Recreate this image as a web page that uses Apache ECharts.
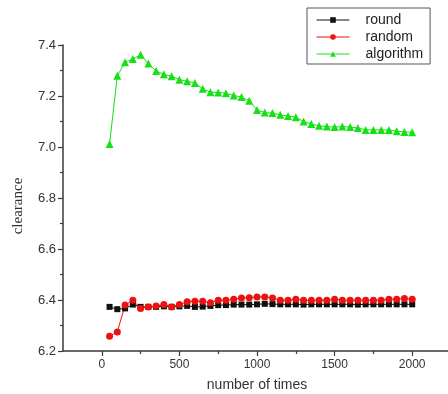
<!DOCTYPE html>
<html>
<head>
<meta charset="utf-8">
<script src="https://cdn.jsdelivr.net/npm/echarts@6/dist/echarts.min.js"></script>
<style>
  html, body { margin: 0; padding: 0; background: #fff; }
  #chart { width: 448px; height: 394px; }
</style>
</head>
<body>
<div id="chart"></div>
<script>
// x positions of the samples
const times = [50, 100, 150, 200, 250, 300, 350, 400, 450, 500,
  550, 600, 650, 700, 750, 800, 850, 900, 950, 1000,
  1050, 1100, 1150, 1200, 1250, 1300, 1350, 1400, 1450, 1500,
  1550, 1600, 1650, 1700, 1750, 1800, 1850, 1900, 1950, 2000];

const roundVals = [6.373, 6.364, 6.367, 6.382, 6.373, 6.373, 6.373, 6.375, 6.373, 6.375,
  6.377, 6.373, 6.374, 6.377, 6.380, 6.380, 6.382, 6.382, 6.382, 6.383,
  6.385, 6.384, 6.383, 6.383, 6.383, 6.382, 6.383, 6.383, 6.383, 6.383,
  6.383, 6.383, 6.382, 6.383, 6.383, 6.383, 6.383, 6.383, 6.383, 6.383];

const randomVals = [6.258, 6.275, 6.380, 6.399, 6.367, 6.373, 6.376, 6.382, 6.373, 6.382,
  6.393, 6.395, 6.395, 6.389, 6.399, 6.399, 6.403, 6.408, 6.409, 6.412,
  6.412, 6.408, 6.399, 6.399, 6.403, 6.399, 6.399, 6.399, 6.399, 6.403,
  6.399, 6.399, 6.399, 6.399, 6.399, 6.399, 6.403, 6.403, 6.406, 6.403];

const algorithmVals = [7.012, 7.279, 7.332, 7.345, 7.362, 7.327, 7.298, 7.285, 7.277, 7.264,
  7.258, 7.251, 7.228, 7.215, 7.214, 7.211, 7.202, 7.196, 7.181, 7.145,
  7.135, 7.133, 7.126, 7.122, 7.117, 7.100, 7.090, 7.083, 7.080, 7.078,
  7.080, 7.078, 7.075, 7.067, 7.067, 7.067, 7.067, 7.062, 7.059, 7.058];

const xMajorTicks = [0, 500, 1000, 1500, 2000];
const xMinorTicks = [250, 750, 1250, 1750];

const axisColor = '#3a3a3a';
const labelColor = '#333';

function lineSeries(name, vals, symbol, size, color) {
  return {
    name: name,
    type: 'line',
    xAxisIndex: 0,
    data: times.map((t, i) => [t, vals[i]]),
    symbol: symbol,
    symbolSize: size,
    showSymbol: true,
    lineStyle: {color: color, width: 1},
    itemStyle: {color: color},
    emphasis: {disabled: true}
  };
}

const chart = echarts.init(document.getElementById('chart'), null, {renderer: 'canvas'});
chart.setOption({
  animation: false,
  backgroundColor: '#fff',
  grid: {left: 63, top: 45, width: 388, height: 306, containLabel: false, outerBoundsMode: 'none'},
  legend: {
    orient: 'vertical',
    left: 307,
    top: 8,
    data: ['round', 'random', 'algorithm'],
    itemWidth: 33,
    itemHeight: 7,
    itemGap: 3,
    padding: [5, 7, 3, 9],
    borderColor: '#555',
    borderWidth: 1,
    borderRadius: 0,
    lineStyle: {width: 1},
    textStyle: {fontFamily: 'Liberation Sans, Arial, sans-serif', fontSize: 14, color: '#222', padding: [0, 0, 0, 11]}
  },
  xAxis: [
    {
      type: 'value',
      min: -250,
      max: 2250,
      position: 'bottom',
      name: 'number of times',
      nameLocation: 'middle',
      nameGap: 27,
      nameTextStyle: {fontFamily: 'Liberation Sans, Arial, sans-serif', fontSize: 14, color: labelColor},
      axisLine: {onZero: false, lineStyle: {color: axisColor, width: 1.5}},
      axisTick: {show: true, inside: false, length: 5, customValues: xMajorTicks, lineStyle: {color: axisColor, width: 1.2}},
      axisLabel: {customValues: xMajorTicks, margin: 8, fontFamily: 'Liberation Sans, Arial, sans-serif', fontSize: 12, color: labelColor,
        formatter: v => String(v)},
      splitLine: {show: false}
    },
    {
      type: 'value',
      min: -250,
      max: 2250,
      position: 'bottom',
      axisLine: {show: false, onZero: false},
      axisTick: {show: true, inside: false, length: 3, customValues: xMinorTicks, lineStyle: {color: axisColor, width: 1.2}},
      axisLabel: {show: false},
      splitLine: {show: false}
    }
  ],
  yAxis: {
    type: 'value',
    min: 6.2,
    max: 7.4,
    interval: 0.2,
    name: 'clearance',
    nameLocation: 'middle',
    nameGap: 37,
    nameTextStyle: {fontFamily: 'Liberation Serif, Times New Roman, serif', fontSize: 15, color: labelColor, padding: [0, 16, 0, 0]},
    axisLine: {show: true, onZero: false, lineStyle: {color: axisColor, width: 1.5}},
    axisTick: {show: true, inside: false, length: 5, lineStyle: {color: axisColor, width: 1.2}},
    minorTick: {show: true, splitNumber: 2, length: 3, lineStyle: {color: axisColor, width: 1.2}},
    axisLabel: {margin: 7, fontFamily: 'Liberation Sans, Arial, sans-serif', fontSize: 13, color: labelColor,
      formatter: v => v.toFixed(1)},
    splitLine: {show: false}
  },
  series: [
    lineSeries('round', roundVals, 'rect', 6, '#111111'),
    lineSeries('random', randomVals, 'circle', 7, '#ee1111'),
    lineSeries('algorithm', algorithmVals, 'triangle', 8, '#16e016')
  ]
});
</script>
</body>
</html>
